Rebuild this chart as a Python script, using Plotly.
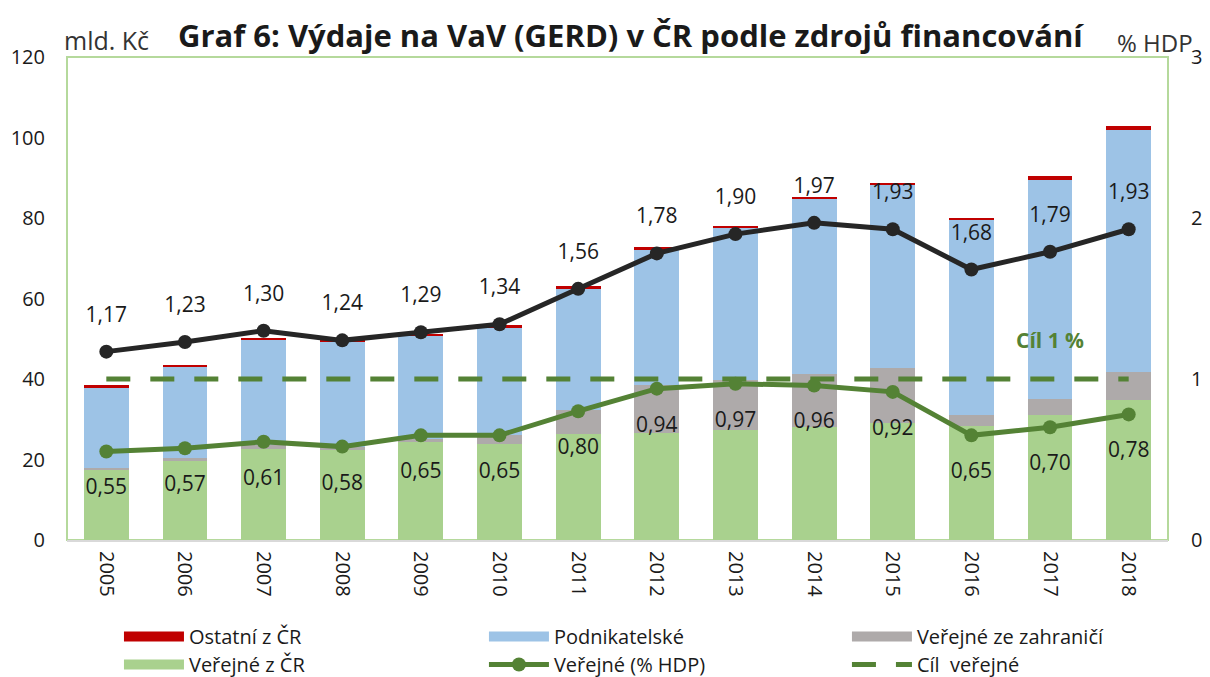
import plotly.graph_objects as go

years = [2005, 2006, 2007, 2008, 2009, 2010, 2011, 2012, 2013, 2014, 2015, 2016, 2017, 2018]

# mld. Kč
verejne_cr = [17.4, 19.7, 22.5, 22.4, 24.4, 23.9, 26.3, 26.7, 27.3, 28.0, 29.0, 28.4, 31.0, 34.8]
verejne_zahr = [0.6, 0.6, 1.1, 0.6, 0.6, 2.2, 6.1, 11.8, 12.4, 13.2, 13.7, 2.6, 4.0, 7.0]
podnikatelske = [20.0, 22.7, 26.3, 26.3, 25.7, 26.8, 30.0, 33.5, 37.8, 43.4, 45.5, 48.4, 54.4, 60.1]
ostatni_cr = [0.4, 0.5, 0.3, 0.4, 0.5, 0.4, 0.7, 0.7, 0.5, 0.65, 0.6, 0.6, 1.0, 1.0]

# % HDP
gerd_hdp = [1.17, 1.23, 1.30, 1.24, 1.29, 1.34, 1.56, 1.78, 1.90, 1.97, 1.93, 1.68, 1.79, 1.93]
verejne_hdp = [0.55, 0.57, 0.61, 0.58, 0.65, 0.65, 0.80, 0.94, 0.97, 0.96, 0.92, 0.65, 0.70, 0.78]
cil_verejne = [1.0] * len(years)

FONT = "Open Sans"
C_RED = "#c00000"
C_BLUE = "#9dc3e6"
C_GREY = "#aeaaaa"
C_GREEN = "#a9d18e"
C_DGREEN = "#548235"
C_BLACK = "#262626"
C_TEXT = "#1a1a1a"

fig = go.Figure()

bar_series = [
    ("Veřejné z ČR", verejne_cr, C_GREEN, "legend4"),
    ("Veřejné ze zahraničí", verejne_zahr, C_GREY, "legend3"),
    ("Podnikatelské", podnikatelske, C_BLUE, "legend2"),
    ("Ostatní z ČR", ostatni_cr, C_RED, "legend"),
]
for name, vals, color, leg in bar_series:
    fig.add_bar(x=years, y=vals, name=name, marker_color=color, marker_line_width=0,
                legendgroup=name, showlegend=False)
    # legend-only entry drawn as a wide swatch (as in the reference)
    fig.add_scatter(x=[None], y=[None], mode="lines", name=name, legendgroup=name,
                    line=dict(color=color, width=14), legend=leg, hoverinfo="skip")

fig.add_scatter(x=years, y=cil_verejne, yaxis="y2", mode="lines", name="Cíl  veřejné",
                line=dict(color=C_DGREEN, width=5, dash="24px,20px"), legend="legend6")

fig.add_scatter(x=years, y=gerd_hdp, yaxis="y2", mode="lines+markers", showlegend=False,
                line=dict(color=C_BLACK, width=5), marker=dict(size=14, color=C_BLACK),
                hoverinfo="skip")
fig.add_scatter(x=years, y=verejne_hdp, yaxis="y2", mode="lines+markers", name="Veřejné (% HDP)",
                line=dict(color=C_DGREEN, width=5), marker=dict(size=14, color=C_DGREEN),
                legend="legend5")

# value labels (invisible markers set the distance of the text from the point)
fig.add_scatter(x=years, y=gerd_hdp, yaxis="y2", mode="markers+text", showlegend=False,
                marker=dict(size=38, opacity=0), texttemplate="%{y:.2f}",
                textposition="top center", textfont=dict(family=FONT, size=21, color=C_TEXT),
                hoverinfo="skip")
fig.add_scatter(x=years, y=verejne_hdp, yaxis="y2", mode="markers+text", showlegend=False,
                marker=dict(size=42, opacity=0), texttemplate="%{y:.2f}",
                textposition="bottom center", textfont=dict(family=FONT, size=21, color=C_TEXT),
                hoverinfo="skip")

leg_common = dict(orientation="v", yanchor="top", xanchor="left",
                  font=dict(size=20, color=C_TEXT), itemwidth=60, tracegroupgap=0,
                  bgcolor="rgba(0,0,0,0)", groupclick="togglegroup")
col_x = [0.0472, 0.3787, 0.7084]
row_y = [-0.1594, -0.2175]

fig.update_layout(
    width=1202, height=669,
    separators=", ",
    barmode="stack", bargap=0.43,
    plot_bgcolor="white", paper_bgcolor="white",
    margin=dict(l=59, r=42, t=49, b=137, autoexpand=False),
    font=dict(family=FONT, size=20, color=C_TEXT),
    xaxis=dict(range=[2004.5, 2018.5], tickmode="array", tickvals=years,
               ticktext=[str(y) for y in years], tickangle=90, showgrid=False,
               showline=True, linecolor="#d9d9d9", linewidth=2, ticks="",
               zeroline=False, tickfont=dict(size=20), ticklabelstandoff=5),
    yaxis=dict(range=[0, 120], dtick=20, showgrid=False, zeroline=False, ticks="",
               tickfont=dict(size=20), ticklabelstandoff=21),
    yaxis2=dict(range=[0, 3], dtick=1, overlaying="y", side="right", showgrid=False,
                zeroline=False, ticks="", tickfont=dict(size=20), ticklabelstandoff=22),
    showlegend=True,
    legend=dict(x=col_x[0], y=row_y[0], **leg_common),
    legend2=dict(x=col_x[1], y=row_y[0], **leg_common),
    legend3=dict(x=col_x[2], y=row_y[0], **leg_common),
    legend4=dict(x=col_x[0], y=row_y[1], **leg_common),
    legend5=dict(x=col_x[1], y=row_y[1], **leg_common),
    legend6=dict(x=col_x[2], y=row_y[1], **leg_common),
    shapes=[dict(type="rect", xref="paper", yref="paper", x0=0, x1=1, y0=0, y1=1,
                 line=dict(color="#b5d99c", width=2), layer="below")],
    annotations=[
        dict(text="<b>Graf 6: Výdaje na VaV (GERD) v ČR podle zdrojů financování</b>",
             xref="paper", yref="paper", x=0.512, y=1.0, yshift=22, xanchor="center", yanchor="middle",
             showarrow=False, font=dict(size=31, color=C_TEXT)),
        dict(text="mld. Kč", xref="paper", yref="paper", x=0, xshift=-5, y=1.0, yshift=17,
             xanchor="left", yanchor="middle", showarrow=False, font=dict(size=25, color="#333333")),
        dict(text="% HDP", xref="paper", yref="paper", x=1, xshift=27, y=1.0, yshift=15,
             xanchor="right", yanchor="middle", showarrow=False, font=dict(size=24, color="#333333")),
        dict(text="<b>Cíl 1 %</b>", xref="x", yref="y2", x=2017, y=1.24, xanchor="center",
             yanchor="middle", showarrow=False, font=dict(size=21, color=C_DGREEN)),
    ],
)

fig.write_html("out.html")
